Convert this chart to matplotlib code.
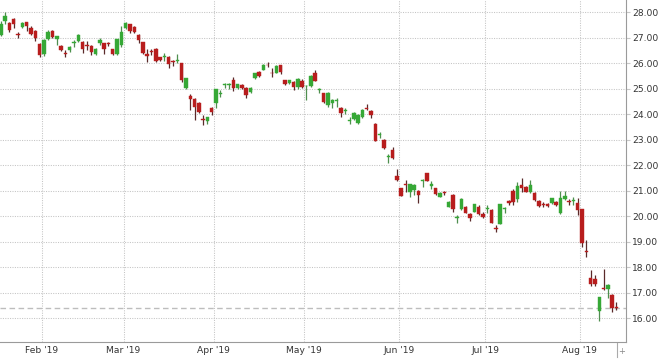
import matplotlib
matplotlib.use("Agg")
import matplotlib.pyplot as plt
import numpy as np
import pandas as pd

holidays = ["2019-01-21", "2019-02-18", "2019-04-19", "2019-05-27", "2019-07-04"]
start_date, end_date = "2019-01-17", "2019-08-13"

opens = [27.10, 27.67, 27.57, 27.74, 27.15, 27.44, 27.60, 27.40, 27.28, 26.75,
         26.35, 26.94, 27.27, 26.95, 26.68, 26.40, 26.50, 26.78, 26.89, 26.82,
         26.70, 26.67, 26.37, 26.78, 26.78, 26.80, 26.55, 26.35, 26.72, 27.37,
         27.52, 27.44, 27.12, 26.82, 26.38, 26.48, 26.56, 26.23, 26.24, 26.25,
         26.07, 26.08, 26.00, 25.02, 24.70, 24.60, 24.46, 23.82, 23.72, 24.23,
         24.43, 24.80, 25.16, 25.13, 25.34, 25.02, 25.15, 25.02, 24.86, 25.41,
         25.67, 25.74, 25.95, 25.63, 25.63, 25.93, 25.34, 25.21, 25.28, 25.06,
         25.30, 25.10, 25.11, 25.61, 24.96, 24.82, 24.37, 24.43, 24.52, 24.24,
         24.13, 23.73, 23.80, 23.67, 23.88, 24.25, 24.14, 23.62, 23.17, 22.99,
         22.32, 22.60, 21.58, 21.10, 21.25, 20.97, 21.03, 21.00, 21.38, 21.68,
         21.20, 21.10, 20.77, 20.95, 20.38, 20.84, 19.95, 20.27, 20.38, 20.09,
         20.18, 20.38, 20.09, 20.27, 20.25, 19.55, 19.70, 20.29, 20.60, 21.01,
         20.67, 21.23, 21.14, 20.97, 20.93, 20.60, 20.48, 20.50, 20.51, 20.57,
         20.14, 20.66, 20.58, 20.58, 20.51, 20.27, 18.65, 17.57, 17.53, 16.30,
         17.17, 17.15, 16.91, 16.45]
highs = [27.65, 28.00, 27.63, 27.78, 27.24, 27.60, 27.62, 27.45, 27.30, 26.80,
         26.95, 27.30, 27.30, 27.06, 26.72, 26.52, 26.67, 26.92, 27.15, 26.86,
         26.89, 26.70, 26.60, 26.98, 26.80, 26.85, 26.57, 26.97, 27.45, 27.60,
         27.55, 27.47, 27.15, 26.85, 26.55, 26.56, 26.58, 26.26, 26.42, 26.27,
         26.13, 26.37, 26.02, 25.43, 24.78, 24.62, 24.50, 23.97, 23.90, 24.30,
         25.00, 24.95, 25.24, 25.24, 25.45, 25.20, 25.18, 25.05, 25.06, 25.63,
         25.70, 25.96, 26.06, 25.80, 25.92, 25.95, 25.36, 25.36, 25.30, 25.42,
         25.38, 25.15, 25.55, 25.74, 25.02, 24.85, 24.88, 24.60, 24.63, 24.27,
         24.24, 23.88, 24.10, 24.00, 24.20, 24.40, 24.16, 23.64, 23.32, 23.02,
         22.44, 22.73, 21.85, 21.12, 21.42, 21.28, 21.26, 21.02, 21.46, 21.70,
         21.40, 21.12, 20.95, 21.00, 20.60, 20.87, 20.05, 20.70, 20.40, 20.11,
         20.50, 20.45, 20.15, 20.44, 20.28, 19.66, 20.50, 20.36, 20.65, 21.05,
         21.36, 21.49, 21.20, 21.42, 20.96, 20.65, 20.57, 20.53, 20.73, 20.60,
         21.00, 21.00, 20.67, 20.77, 20.70, 20.30, 19.07, 17.90, 17.70, 16.84,
         17.93, 17.35, 16.95, 16.65]
lows = [27.05, 27.55, 27.24, 27.37, 27.00, 27.40, 27.28, 27.10, 26.89, 26.24,
        26.30, 26.90, 26.98, 26.70, 26.48, 26.24, 26.45, 26.65, 26.85, 26.42,
        26.52, 26.33, 26.33, 26.72, 26.37, 26.68, 26.33, 26.33, 26.65, 27.35,
        27.20, 27.20, 26.78, 26.38, 26.06, 26.33, 26.04, 26.10, 26.10, 25.80,
        25.90, 26.02, 25.28, 25.00, 24.17, 23.78, 24.05, 23.58, 23.62, 23.97,
        24.23, 24.69, 25.04, 24.98, 24.93, 24.98, 25.00, 24.63, 24.84, 25.39,
        25.47, 25.72, 25.84, 25.45, 25.60, 25.58, 25.14, 25.18, 24.95, 25.00,
        25.02, 24.56, 25.05, 25.30, 24.82, 24.44, 24.30, 24.24, 24.30, 23.88,
        24.01, 23.62, 23.78, 23.62, 23.85, 24.17, 23.84, 22.94, 23.06, 22.62,
        22.08, 22.24, 21.40, 20.79, 20.97, 20.77, 20.84, 20.51, 21.16, 21.38,
        21.06, 20.84, 20.75, 20.84, 20.35, 20.18, 19.72, 20.25, 20.12, 19.83,
        20.15, 20.05, 19.95, 20.12, 19.72, 19.40, 19.68, 20.12, 20.45, 20.45,
        20.57, 20.97, 20.95, 20.90, 20.60, 20.37, 20.38, 20.38, 20.48, 20.40,
        20.10, 20.63, 20.45, 20.44, 20.05, 18.81, 18.39, 17.27, 17.27, 15.91,
        17.09, 16.78, 16.26, 16.33]
closes = [27.55, 27.87, 27.31, 27.54, 27.12, 27.57, 27.47, 27.14, 26.98, 26.33,
          26.92, 27.24, 27.02, 27.05, 26.52, 26.38, 26.63, 26.84, 27.11, 26.57,
          26.67, 26.46, 26.55, 26.90, 26.55, 26.76, 26.36, 26.94, 27.24, 27.57,
          27.25, 27.22, 26.92, 26.40, 26.27, 26.45, 26.08, 26.14, 26.28, 25.98,
          26.04, 26.12, 25.35, 25.41, 24.58, 24.28, 24.10, 23.78, 23.88, 24.10,
          24.98, 24.84, 25.18, 25.17, 25.02, 25.17, 25.02, 24.76, 25.04, 25.61,
          25.50, 25.93, 25.92, 25.60, 25.89, 25.67, 25.17, 25.34, 25.06, 25.37,
          25.08, 25.12, 25.50, 25.32, 25.00, 24.47, 24.85, 24.56, 24.56, 24.04,
          24.15, 23.77, 24.06, 23.97, 24.17, 24.22, 23.96, 22.97, 23.21, 22.67,
          22.36, 22.27, 21.43, 20.81, 21.21, 21.25, 21.23, 20.84, 21.42, 21.40,
          21.25, 20.86, 20.93, 20.92, 20.57, 20.27, 19.97, 20.67, 20.14, 19.92,
          20.48, 20.09, 19.99, 20.31, 19.75, 19.52, 20.47, 20.33, 20.51, 20.57,
          21.19, 21.10, 20.97, 21.23, 20.64, 20.40, 20.45, 20.41, 20.70, 20.44,
          20.70, 20.80, 20.55, 20.62, 20.25, 18.94, 18.60, 17.35, 17.35, 16.82,
          17.15, 17.31, 16.39, 16.40]

y_ticks = [16, 17, 18, 19, 20, 21, 22, 23, 24, 25, 26, 27, 28]

dates = pd.bdate_range(start_date, end_date)
dates = dates[~dates.isin(pd.to_datetime(holidays))][:len(opens)]

o = np.array(opens); h = np.array(highs); l = np.array(lows); c = np.array(closes)
x = np.arange(len(o))

W, H = 660, 359
fig = plt.figure(figsize=(W / 100, H / 100), dpi=100)
ax = fig.add_axes([0, 17 / H, 625.5 / W, 1 - 17 / H])

up = c >= o
green = "#36a836"
red = "#b81d1d"
wick_up = "#4f8f4f"
wick_dn = "#5a2a2a"

ax.vlines(x[up], l[up], h[up], color=wick_up, linewidth=0.9, zorder=3)
ax.vlines(x[~up], l[~up], h[~up], color=wick_dn, linewidth=0.9, zorder=3)
body_lo = np.minimum(o, c)
body_h = np.maximum(np.abs(c - o), 0.025)
ax.bar(x[up], body_h[up], bottom=body_lo[up], width=0.8, color=green,
       edgecolor=green, linewidth=0.3, zorder=4)
ax.bar(x[~up], body_h[~up], bottom=body_lo[~up], width=0.8, color=red,
       edgecolor=red, linewidth=0.3, zorder=4)

# month ticks at the boundary before the first trading day of each month
months = pd.Series(dates.month)
first_idx = [i for i in range(1, len(months)) if months[i] != months[i - 1]]
ax.set_xticks([i - 0.5 for i in first_idx])
ax.set_xticklabels([dates[i].strftime("%b '%y") for i in first_idx])

ax.set_yticks(y_ticks)
ax.set_yticklabels([f"{v:.2f}" for v in y_ticks])
ax.yaxis.tick_right()

ax.set_xlim(-0.19, 145.1)
ax.set_ylim(15.07, 28.48)

ax.grid(True, color="#c4c4c4", linestyle=(0, (1.0, 1.3)), linewidth=0.75, zorder=0)
ax.axhline(c[-1], color="#bdbdbd", linestyle=(0, (4, 2.5)), linewidth=1.0, zorder=1)

for s in ["top", "left"]:
    ax.spines[s].set_visible(False)
ax.spines["right"].set_color("#9a9a9a")
ax.spines["bottom"].set_color("#9a9a9a")
ax.tick_params(axis="y", length=3, color="#c8c8c8", labelsize=6.6,
               labelcolor="#333333", pad=2)
ax.tick_params(axis="x", length=0, labelsize=6.6, labelcolor="#333333", pad=3)

# small control at bottom right
fig.add_artist(plt.Line2D([617 / W, 617 / W], [2 / H, 16 / H], color="#aaaaaa",
                          linewidth=0.8))
fig.text(622 / W, 7.5 / H, "+", fontsize=6, color="#888888", ha="center",
         va="center")

fig.savefig("out.png", dpi=100)
